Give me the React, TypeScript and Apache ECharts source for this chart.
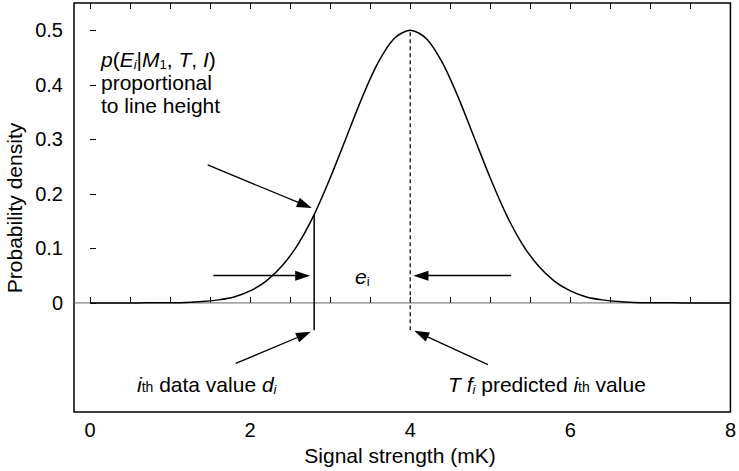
import React, { useEffect, useRef } from "react";
import * as echarts from "echarts";

// ---- data ----
const xValues = [
  0, 0.2, 0.4, 0.6, 0.8, 1.0, 1.2, 1.4, 1.6, 1.8, 2.0, 2.2, 2.4, 2.6, 2.8, 3.0, 3.2, 3.4, 3.6, 3.8, 4.0,
  4.2, 4.4, 4.6, 4.8, 5.0, 5.2, 5.4, 5.6, 5.8, 6.0, 6.2, 6.4, 6.6, 6.8, 7.0, 7.2, 7.4, 7.6, 7.8, 8.0,
];
const densityValues = [
  0, 0, 0, 0.0001, 0.0002, 0.0004, 0.001, 0.0025, 0.0056, 0.011, 0.022, 0.04, 0.068, 0.108, 0.162, 0.229,
  0.303, 0.377, 0.441, 0.485, 0.5,
  0.485, 0.441, 0.377, 0.303, 0.229, 0.162, 0.108, 0.068, 0.04, 0.022, 0.011, 0.0056, 0.0025, 0.001,
  0.0004, 0.0002, 0.0001, 0, 0, 0,
];
const xTickLabels = [0, 2, 4, 6, 8];
const xTickMarks = [0, 0.5, 1, 1.5, 2, 2.5, 3, 3.5, 4, 4.5, 5, 5.5, 6, 6.5, 7, 7.5, 8];
const yTickValues = [0, 0.1, 0.2, 0.3, 0.4, 0.5];
const xRange = [-0.2, 8];
const yRange = [-0.2, 0.55];

const dataValueX = 2.8;
const dataValueTop = 0.162;
const predictedX = 4;
const predictedTop = 0.5;
const markerBottom = -0.05;

// arrows: tail -> tip
const arrowFrom = [
  [1.47, 0.253],
  [1.54, 0.05],
  [5.26, 0.05],
  [1.82, -0.111],
  [4.97, -0.113],
];
const arrowTo = [
  [2.77, 0.174],
  [2.75, 0.05],
  [4.04, 0.05],
  [2.76, -0.053],
  [4.05, -0.051],
];

const FONT = "'Liberation Sans', Arial, Helvetica, sans-serif";
const HEAD_LEN = 15;
const HEAD_W = 10;

export default function App() {
  const ref = useRef<HTMLDivElement>(null);

  useEffect(() => {
    if (!ref.current) return;
    const chart = echarts.init(ref.current, undefined, { renderer: "svg" });

    const ANN = 21;
    const rich = {
      it: { fontStyle: "italic", fontSize: ANN, fontFamily: FONT, color: "#000" },
      sub: { fontSize: 13, fontFamily: FONT, color: "#000", padding: [10, 0, 0, 0] },
      subit: { fontSize: 13, fontStyle: "italic", fontFamily: FONT, color: "#000", padding: [10, 0, 0, 0] },
      th: { fontSize: 14, fontFamily: FONT, color: "#000", padding: [4, 0, 0, 0] },
    };
    const baseText = { fontSize: ANN, fontFamily: FONT, fill: "#000" };

    const option: any = {
      animation: false,
      grid: {
        left: 74,
        right: 4,
        top: 3,
        bottom: 59,
        show: true,
        borderColor: "#000",
        borderWidth: 1.5,
        backgroundColor: "transparent",
      },
      xAxis: [
        {
          type: "value",
          min: xRange[0],
          max: xRange[1],
          position: "bottom",
          axisLine: { show: false },
          axisTick: {
            show: true,
            inside: true,
            length: 6,
            customValues: xTickMarks,
            lineStyle: { color: "#000", width: 1 },
          },
          axisLabel: {
            customValues: xTickLabels,
            fontSize: 20,
            fontFamily: FONT,
            color: "#000",
            margin: 8,
          },
          splitLine: { show: false },
        },
        {
          type: "value",
          min: xRange[0],
          max: xRange[1],
          position: "top",
          axisLine: { show: false },
          axisTick: {
            show: true,
            inside: true,
            length: 6,
            customValues: xTickMarks,
            lineStyle: { color: "#000", width: 1 },
          },
          axisLabel: { show: false },
          splitLine: { show: false },
        },
      ],
      yAxis: {
        type: "value",
        min: yRange[0],
        max: yRange[1],
        axisLine: { show: false },
        axisTick: {
          show: true,
          inside: true,
          length: 6,
          customValues: yTickValues,
          lineStyle: { color: "#000", width: 1 },
        },
        axisLabel: {
          customValues: yTickValues,
          formatter: (v: number) => (v === 0 ? "0" : v.toFixed(1)),
          fontSize: 20,
          fontFamily: FONT,
          color: "#000",
          margin: 11,
        },
        splitLine: { show: false },
      },
      series: [
        {
          id: "zero",
          type: "line",
          data: [
            [xRange[0], 0],
            [xRange[1], 0],
          ],
          symbol: "none",
          lineStyle: { color: "#666", width: 1 },
          z: 1,
          silent: true,
          markLine: {
            silent: true,
            symbol: ["none", "triangle"],
            symbolSize: [HEAD_W, HEAD_LEN],
            label: { show: false },
            lineStyle: { color: "#000", width: 1.3, type: "solid" },
            itemStyle: { color: "#000" },
            emphasis: { disabled: true },
            data: [],
          },
        },
        {
          type: "line",
          data: xValues.map((x, i) => [x, densityValues[i]]),
          smooth: 0.3,
          symbol: "none",
          lineStyle: { color: "#000", width: 1.5 },
          z: 3,
          silent: true,
        },
        {
          type: "line",
          data: [
            [dataValueX, markerBottom],
            [dataValueX, dataValueTop],
          ],
          symbol: "none",
          lineStyle: { color: "#000", width: 1.5 },
          z: 3,
          silent: true,
        },
        {
          type: "line",
          data: [
            [predictedX, markerBottom],
            [predictedX, predictedTop],
          ],
          symbol: "none",
          lineStyle: { color: "#333", width: 1.5, type: [4, 3] },
          z: 2,
          silent: true,
        },
      ],
      graphic: [
        {
          type: "text",
          left: 101,
          top: 48,
          silent: true,
          style: {
            ...baseText,
            lineHeight: 23,
            text:
              "{it|p}({it|E}{subit|i}|{it|M}{sub|1}, {it|T}, {it|I})\nproportional\nto line height",
            rich,
          },
        },
        {
          type: "text",
          left: 355,
          top: 266,
          silent: true,
          style: { ...baseText, text: "{it|e}{sub|i}", rich },
        },
        {
          type: "text",
          left: 137,
          top: 374,
          silent: true,
          style: { ...baseText, text: "{it|i}{th|th} data value {it|d}{subit|i}", rich },
        },
        {
          type: "text",
          left: 448,
          top: 374,
          silent: true,
          style: { ...baseText, text: "{it|T} {it|f}{subit|i} predicted {it|i}{th|th} value", rich },
        },
        {
          type: "text",
          x: 14,
          y: 208,
          rotation: Math.PI / 2,
          silent: true,
          style: { ...baseText, fontSize: 21, text: "Probability density", align: "center", verticalAlign: "middle" },
        },
        {
          type: "text",
          x: 400,
          y: 455,
          silent: true,
          style: { ...baseText, fontSize: 21, text: "Signal strength (mK)", align: "center", verticalAlign: "middle" },
        },
      ],
    };

    chart.setOption(option);

    // place each arrow head so that its tip (not its centre) sits on the target point
    const arrowData = arrowFrom.map((from, i) => {
      const p0 = chart.convertToPixel({ seriesIndex: 0 }, from) as number[];
      const p1 = chart.convertToPixel({ seriesIndex: 0 }, arrowTo[i]) as number[];
      const dx = p1[0] - p0[0];
      const dy = p1[1] - p0[1];
      const len = Math.hypot(dx, dy) || 1;
      const cx = p1[0] - (dx / len) * (HEAD_LEN / 2);
      const cy = p1[1] - (dy / len) * (HEAD_LEN / 2);
      return [{ x: p0[0], y: p0[1] }, { x: cx, y: cy }];
    });
    chart.setOption({ series: [{ id: "zero", markLine: { data: arrowData } }] });

    return () => chart.dispose();
  }, []);

  return (
    <div
      ref={ref}
      style={{ position: "absolute", left: 0, top: 0, width: 739, height: 471, background: "#fff" }}
    />
  );
}
